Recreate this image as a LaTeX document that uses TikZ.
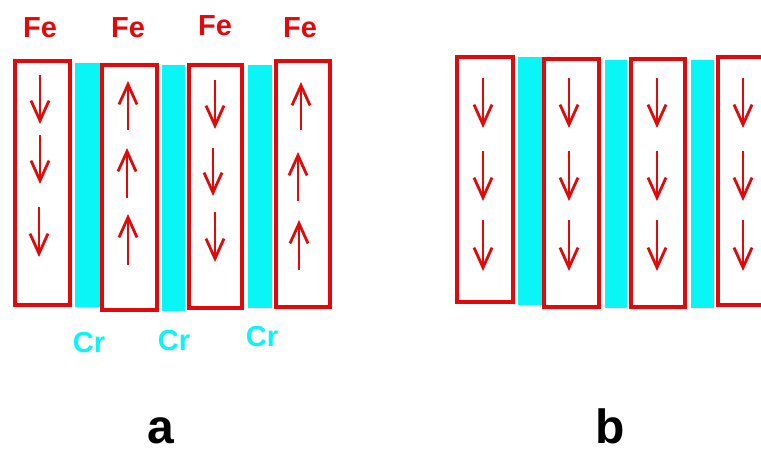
\documentclass[tikz,border=0pt]{standalone}
\usepackage{fontspec}
\setmainfont{Liberation Sans}
\usetikzlibrary{arrows.meta}
\definecolor{fered}{RGB}{225,10,10}
\definecolor{crcyan}{RGB}{10,245,245}
\tikzset{
  febox/.style={draw=fered, line width=3.6pt, inner sep=0pt, minimum width=0pt},
  crband/.style={fill=crcyan, draw=none},
  spin/.style={draw=fered, line width=2.4pt, -{Straight Barb[length=20pt,width=18pt,line width=2.8pt]}},
  felabel/.style={text=fered, font=\bfseries\fontsize{29}{29}\selectfont, inner sep=0pt},
  crlabel/.style={text=crcyan, font=\bfseries\fontsize{29}{29}\selectfont, inner sep=0pt},
  panel/.style={text=black, font=\bfseries\fontsize{48}{48}\selectfont, inner sep=0pt}
}
\begin{document}
\begin{tikzpicture}[x=1pt,y=-1pt]
\useasboundingbox (0,0) rectangle (761,455);
\clip (0,0) rectangle (761,455);
\fill[white] (0,0) rectangle (761,455);
% ---------- panel a ----------
\fill[crband] (75,63) rectangle (100,307);
\fill[crband] (162,65) rectangle (185,311);
\fill[crband] (248,65) rectangle (272,308);
\draw[febox] (15,61) rectangle (70,305);
\draw[febox] (102,65) rectangle (157,310);
\draw[febox] (189,65) rectangle (242,308);
\draw[febox] (276,61) rectangle (330,307);
\node[felabel] (fe1) at (40,28) {Fe};
\node[felabel] (fe2) at (128,28) {Fe};
\node[felabel] (fe3) at (215,26) {Fe};
\node[felabel] (fe4) at (300,28) {Fe};
\node[crlabel] (cr1) at (89,343) {Cr};
\node[crlabel] (cr2) at (174,341) {Cr};
\node[crlabel] (cr3) at (262,337) {Cr};
% spins a
\coordinate (a1s1) at (40,75);  \coordinate (a1e1) at (40,124);
\coordinate (a1s2) at (40,135); \coordinate (a1e2) at (40,184);
\coordinate (a1s3) at (39,207); \coordinate (a1e3) at (39,257);
\draw[spin] (a1s1) -- (a1e1);
\draw[spin] (a1s2) -- (a1e2);
\draw[spin] (a1s3) -- (a1e3);
\coordinate (a2s1) at (128,130); \coordinate (a2e1) at (128,81);
\coordinate (a2s2) at (127,198); \coordinate (a2e2) at (127,148);
\coordinate (a2s3) at (128,265); \coordinate (a2e3) at (128,214);
\draw[spin] (a2s1) -- (a2e1);
\draw[spin] (a2s2) -- (a2e2);
\draw[spin] (a2s3) -- (a2e3);
\coordinate (a3s1) at (215,80);  \coordinate (a3e1) at (215,129);
\coordinate (a3s2) at (213,148); \coordinate (a3e2) at (213,196);
\coordinate (a3s3) at (215,212); \coordinate (a3e3) at (215,262);
\draw[spin] (a3s1) -- (a3e1);
\draw[spin] (a3s2) -- (a3e2);
\draw[spin] (a3s3) -- (a3e3);
\coordinate (a4s1) at (301,130); \coordinate (a4e1) at (301,82);
\coordinate (a4s2) at (298,201); \coordinate (a4e2) at (298,152);
\coordinate (a4s3) at (299,270); \coordinate (a4e3) at (299,220);
\draw[spin] (a4s1) -- (a4e1);
\draw[spin] (a4s2) -- (a4e2);
\draw[spin] (a4s3) -- (a4e3);
% ---------- panel b ----------
\fill[crband] (518,57) rectangle (542,305);
\fill[crband] (605,60) rectangle (627,308);
\fill[crband] (691,60) rectangle (714,308);
\draw[febox] (457,57) rectangle (513,302);
\draw[febox] (544,59) rectangle (599,307);
\draw[febox] (631,59) rectangle (685,307);
\draw[febox] (718,57) rectangle (775,305);
\foreach \cx/\n in {483/1,569/2,657/3,743/4}{
  \coordinate (b\n s1) at (\cx,78);  \coordinate (b\n e1) at (\cx,128);
  \coordinate (b\n s2) at (\cx,151); \coordinate (b\n e2) at (\cx,201);
  \coordinate (b\n s3) at (\cx,220); \coordinate (b\n e3) at (\cx,271);
  \draw[spin] (b\n s1) -- (b\n e1);
  \draw[spin] (b\n s2) -- (b\n e2);
  \draw[spin] (b\n s3) -- (b\n e3);
}
% panel labels
\node[panel, anchor=base] (la) at (161,443) {a};
\node[panel, anchor=base] (lb) at (610,443) {b};
\end{tikzpicture}
\end{document}
